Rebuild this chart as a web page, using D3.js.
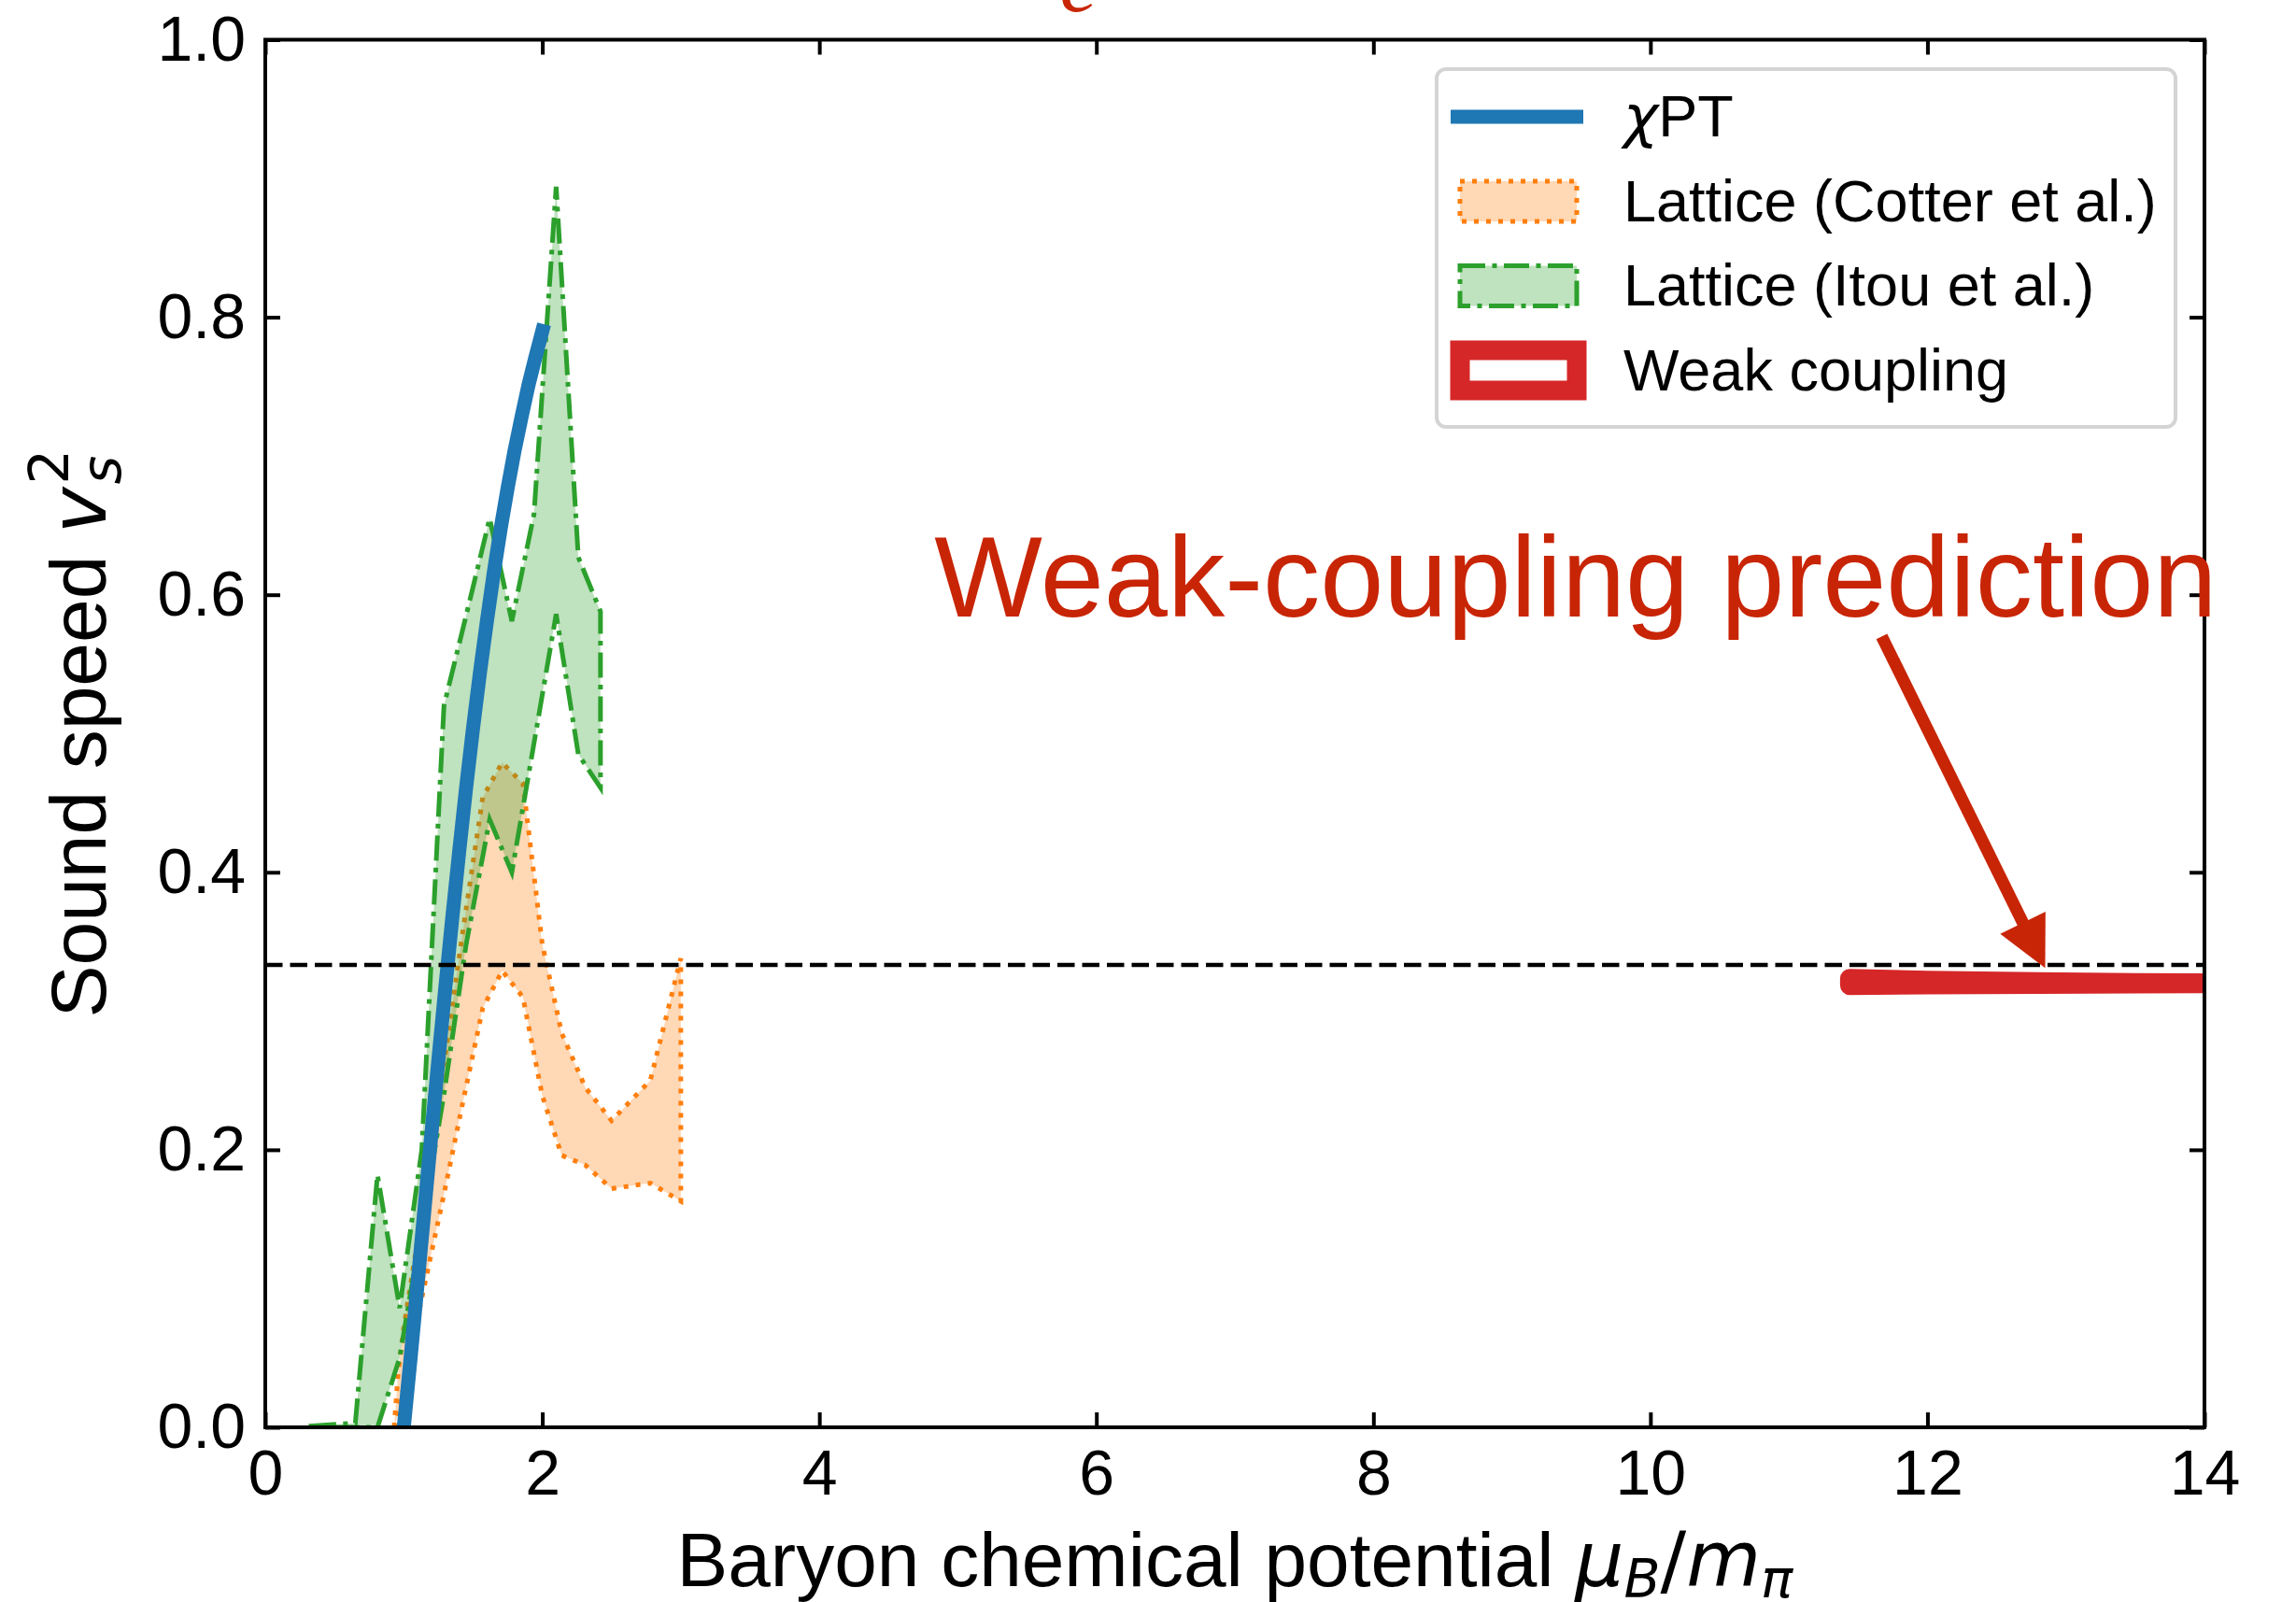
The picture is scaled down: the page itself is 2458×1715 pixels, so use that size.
<!DOCTYPE html>
<html>
<head>
<meta charset="utf-8">
<script src="https://cdn.jsdelivr.net/npm/d3@7"></script>
<style>
  html, body { margin: 0; padding: 0; background: #ffffff; }
  svg { display: block; }
</style>
</head>
<body>
<svg id="chart" width="2458" height="1715"></svg>
<script>
// ---- data ---------------------------------------------------------------
const xTicks = [0, 2, 4, 6, 8, 10, 12, 14];
const yTicks = [0.0, 0.2, 0.4, 0.6, 0.8, 1.0];

// chiral perturbation theory curve
const chptX = [1.00, 1.05, 1.10, 1.15, 1.20, 1.25, 1.30, 1.35, 1.40, 1.45, 1.50,
               1.55, 1.60, 1.65, 1.70, 1.75, 1.80, 1.85, 1.90, 1.95, 2.00];
const chptY = [0.000, 0.051, 0.104, 0.158, 0.212, 0.265, 0.317, 0.367, 0.415, 0.461, 0.504,
               0.544, 0.581, 0.616, 0.648, 0.677, 0.704, 0.728, 0.751, 0.771, 0.790];

// lattice band, Cotter et al.
const cotterX     = [0.93, 0.96, 1.00, 1.14, 1.29, 1.43, 1.57, 1.71, 1.86, 2.00, 2.14, 2.31, 2.50, 2.78, 3.00];
const cotterUpper = [0.000, 0.040, 0.072, 0.160, 0.262, 0.360, 0.454, 0.479, 0.464, 0.348, 0.284, 0.245, 0.221, 0.250, 0.338];
const cotterLower = [0.000, 0.010, 0.030, 0.098, 0.168, 0.236, 0.302, 0.329, 0.310, 0.239, 0.196, 0.189, 0.172, 0.176, 0.163];

// lattice band, Itou et al.
const itouX     = [0.33, 0.49, 0.65, 0.81, 0.97, 1.13, 1.29, 1.45, 1.62, 1.78, 1.94, 2.10, 2.26, 2.42];
const itouUpper = [0.001, 0.002, 0.003, 0.182, 0.086, 0.200, 0.520, 0.585, 0.655, 0.581, 0.658, 0.894, 0.627, 0.588];
const itouLower = [0.000, 0.000, 0.000, 0.000, 0.050, 0.145, 0.240, 0.348, 0.438, 0.400, 0.493, 0.586, 0.485, 0.461];

// weak-coupling (perturbative) band
const weakX     = [11.44, 12.00, 12.80, 13.50, 14.20];
const weakUpper = [0.3233, 0.3220, 0.3209, 0.3203, 0.3199];
const weakLower = [0.3186, 0.3190, 0.3194, 0.3197, 0.3199];

// conformal value 1/3
const conformalLimit = 0.3333;

const legendLabels = ["PT", "Lattice (Cotter et al.)", "Lattice (Itou et al.)", "Weak coupling"];
const annotationText = "Weak-coupling prediction";
const annotationAt = [4.83, 0.584];
const arrowTail = [11.67, 0.570];
const arrowTip  = [12.85, 0.331];

// ---- layout ---------------------------------------------------------------
const L = 284, R = 2360, T = 42.5, B = 1528;
const SANS = "'Liberation Sans', Arial, Helvetica, sans-serif";
const MATH = "'DejaVu Sans', sans-serif";
const C_BLUE = "#1f77b4", C_ORANGE = "#ff7f0e", C_GREEN = "#2ca02c", C_RED = "#d62728";
const C_NOTE = "#c82506";
const DOTTED = "5 8", DASHDOT = "27 7.5 5 7.5";

const svg = d3.select("#chart");
const x = d3.scaleLinear().domain([0, 14]).range([L, R]);
const y = d3.scaleLinear().domain([0, 1]).range([B, T]);

svg.append("defs").append("clipPath").attr("id", "plotClip")
  .append("rect").attr("x", L).attr("y", T).attr("width", R - L).attr("height", B - T);

const plot = svg.append("g").attr("clip-path", "url(#plotClip)");

const toBand = (xs, lo, hi) => xs.map((v, i) => ({ x: v, lo: lo[i], hi: hi[i] }));
const area = d3.area().x(d => x(d.x)).y0(d => y(d.lo)).y1(d => y(d.hi));

// Cotter et al. band
const cotter = toBand(cotterX, cotterLower, cotterUpper);
plot.append("path").datum(cotter).attr("d", area)
  .attr("fill", C_ORANGE).attr("fill-opacity", 0.3).attr("stroke", "none");
plot.append("path").datum(cotter).attr("d", area)
  .attr("fill", "none").attr("stroke", C_ORANGE).attr("stroke-width", 5)
  .attr("stroke-dasharray", DOTTED);

// Itou et al. band
const itou = toBand(itouX, itouLower, itouUpper);
plot.append("path").datum(itou).attr("d", area)
  .attr("fill", C_GREEN).attr("fill-opacity", 0.3).attr("stroke", "none");
plot.append("path").datum(itou).attr("d", area)
  .attr("fill", "none").attr("stroke", C_GREEN).attr("stroke-width", 5)
  .attr("stroke-dasharray", DASHDOT);

// weak-coupling band
plot.append("path").datum(toBand(weakX, weakLower, weakUpper)).attr("d", area)
  .attr("fill", "#ffffff").attr("stroke", C_RED).attr("stroke-width", 21)
  .attr("stroke-linejoin", "round");

// chiPT curve
const line = d3.line().x(d => x(d[0])).y(d => y(d[1]));
plot.append("path").datum(chptX.map((v, i) => [v, chptY[i]])).attr("d", line)
  .attr("fill", "none").attr("stroke", C_BLUE).attr("stroke-width", 15)
  .attr("stroke-linecap", "square").attr("stroke-linejoin", "round");

// conformal line
plot.append("line")
  .attr("x1", x(0)).attr("x2", x(14)).attr("y1", y(conformalLimit)).attr("y2", y(conformalLimit))
  .attr("stroke", "#000").attr("stroke-width", 4.5).attr("stroke-dasharray", "18.5 8");

// ---- axes -----------------------------------------------------------------
function styleAxis(g) {
  g.select(".domain").remove();
  g.selectAll(".tick line").attr("stroke", "#000").attr("stroke-width", 4);
  g.attr("font-family", SANS).attr("font-size", 68);
  g.selectAll(".tick text").attr("fill", "#000");
}
svg.append("g").attr("transform", `translate(0,${B})`)
  .call(d3.axisBottom(x).tickValues(xTicks).tickSize(-16).tickPadding(24).tickFormat(d3.format("d")))
  .call(styleAxis);
svg.append("g").attr("transform", `translate(0,${T})`)
  .call(d3.axisTop(x).tickValues(xTicks).tickSize(-16).tickFormat(""))
  .call(styleAxis);
svg.append("g").attr("transform", `translate(${L},0)`)
  .call(d3.axisLeft(y).tickValues(yTicks).tickSize(-16).tickPadding(21).tickFormat(d3.format(".1f")))
  .call(styleAxis);
svg.append("g").attr("transform", `translate(${R},0)`)
  .call(d3.axisRight(y).tickValues(yTicks).tickSize(-16).tickFormat(""))
  .call(styleAxis);

svg.append("rect").attr("x", L).attr("y", T).attr("width", R - L).attr("height", B - T)
  .attr("fill", "none").attr("stroke", "#000").attr("stroke-width", 4);

// x-axis label: plain words, then the math part laid out piece by piece
const xlY = 1698, xlSize = 82, xlSub = 57;
const xl = svg.append("g");
const xlParts = [
  { t: "Baryon chemical potential", f: SANS, s: xlSize, it: false, dy: 0, gap: 0.278 * xlSize },
  { t: "μ", f: MATH, s: xlSize, it: true, dy: 0, gap: 0 },
  { t: "B", f: MATH, s: xlSub, it: true, dy: 12, gap: 0 },
  { t: "/", f: MATH, s: xlSize, it: false, dy: 0, gap: 0 },
  { t: "m", f: MATH, s: xlSize, it: true, dy: 0, gap: 0 },
  { t: "π", f: MATH, s: xlSub, it: true, dy: 12, gap: 0 }
];
const xlNodes = xlParts.map(p => xl.append("text")
  .attr("font-family", p.f).attr("font-size", p.s).attr("font-style", p.it ? "italic" : "normal")
  .attr("fill", "#000").attr("y", xlY + p.dy).text(p.t));
const xlWidths = xlNodes.map((n, i) => n.node().getComputedTextLength() + xlParts[i].gap);
let xlCursor = (L + R) / 2 - d3.sum(xlWidths) / 2;
xlNodes.forEach((n, i) => { n.attr("x", xlCursor); xlCursor += xlWidths[i]; });

// y-axis label
const yl = svg.append("g").attr("transform", `translate(113,${(T + B) / 2}) rotate(-90)`);
const ylMain = yl.append("text").attr("font-family", SANS).attr("font-size", 84).attr("fill", "#000");
ylMain.append("tspan").text("Sound speed ");
ylMain.append("tspan").attr("font-family", MATH).attr("font-style", "italic").text("v");
const ylSub = yl.append("text").attr("font-family", MATH).attr("font-style", "italic").attr("font-size", 59).text("s");
const ylSup = yl.append("text").attr("font-family", MATH).attr("font-size", 59).text("2");
const wMain = ylMain.node().getComputedTextLength();
const wScript = Math.max(ylSub.node().getComputedTextLength(), ylSup.node().getComputedTextLength());
const yl0 = -(wMain + wScript + 3) / 2;
ylMain.attr("x", yl0).attr("y", 0);
ylSub.attr("x", yl0 + wMain + 3).attr("y", 16);
ylSup.attr("x", yl0 + wMain + 3).attr("y", -40);

// ---- legend ---------------------------------------------------------------
const lg = svg.append("g");
lg.append("rect").attr("x", 1538).attr("y", 74).attr("width", 791).attr("height", 383)
  .attr("rx", 10).attr("fill", "#ffffff").attr("fill-opacity", 0.8)
  .attr("stroke", "#d4d4d4").attr("stroke-width", 4);
const hx0 = 1563, hx1 = 1688, rowH = 90.5, row0 = 125, textX = 1738;
legendLabels.forEach((label, i) => {
  const cy = row0 + i * rowH;
  if (i === 0) {
    lg.append("line").attr("x1", hx0 - 10).attr("x2", hx1 + 7).attr("y1", cy).attr("y2", cy)
      .attr("stroke", C_BLUE).attr("stroke-width", 15);
  } else if (i === 1) {
    lg.append("rect").attr("x", hx0).attr("y", cy - 21.5).attr("width", hx1 - hx0).attr("height", 43)
      .attr("fill", C_ORANGE).attr("fill-opacity", 0.3)
      .attr("stroke", C_ORANGE).attr("stroke-width", 5).attr("stroke-dasharray", DOTTED);
  } else if (i === 2) {
    lg.append("rect").attr("x", hx0).attr("y", cy - 21.5).attr("width", hx1 - hx0).attr("height", 43)
      .attr("fill", C_GREEN).attr("fill-opacity", 0.3)
      .attr("stroke", C_GREEN).attr("stroke-width", 5).attr("stroke-dasharray", DASHDOT);
  } else {
    lg.append("rect").attr("x", hx0).attr("y", cy - 21.5).attr("width", hx1 - hx0).attr("height", 43)
      .attr("fill", "#ffffff").attr("stroke", C_RED).attr("stroke-width", 21);
  }
  const t = lg.append("text").attr("x", textX).attr("y", cy + 21)
    .attr("font-family", SANS).attr("font-size", 63).attr("fill", "#000");
  if (i === 0) t.append("tspan").attr("font-family", MATH).attr("font-style", "italic").text("χ");
  t.append("tspan").text(label);
});

// ---- annotation -----------------------------------------------------------
svg.append("text").attr("x", x(annotationAt[0])).attr("y", y(annotationAt[1]))
  .attr("font-family", SANS).attr("font-size", 122.5).attr("fill", C_NOTE).text(annotationText);

const ax0 = x(arrowTail[0]), ay0 = y(arrowTail[1]);
const ax1 = x(arrowTip[0]), ay1 = y(arrowTip[1]);
const len = Math.hypot(ax1 - ax0, ay1 - ay0);
const ux = (ax1 - ax0) / len, uy = (ay1 - ay0) / len;
const headL = 54, headW = 27;
const bx = ax1 - ux * headL, by = ay1 - uy * headL;
svg.append("line").attr("x1", ax0).attr("y1", ay0).attr("x2", bx + ux * 4).attr("y2", by + uy * 4)
  .attr("stroke", C_NOTE).attr("stroke-width", 13);
svg.append("path")
  .attr("d", `M${ax1},${ay1}L${bx - uy * headW},${by + ux * headW}L${bx + uy * headW},${by - ux * headW}Z`)
  .attr("fill", C_NOTE);

// title glyph running off the top edge
svg.append("text").attr("x", 1155).attr("y", 12).attr("text-anchor", "middle")
  .attr("font-family", "'Liberation Serif', 'Times New Roman', serif").attr("font-style", "italic")
  .attr("font-size", 92).attr("fill", C_NOTE).text("c");
</script>
</body>
</html>
